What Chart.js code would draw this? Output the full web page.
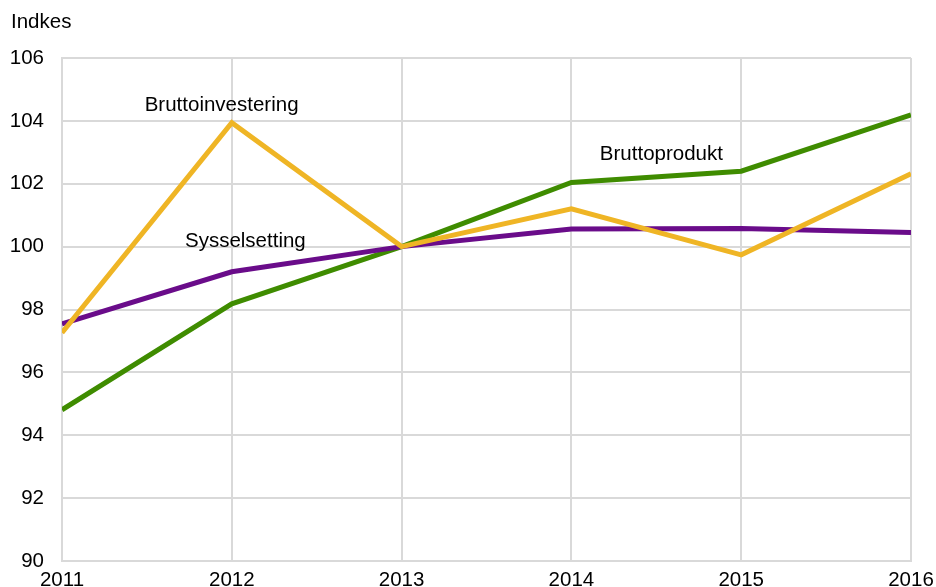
<!DOCTYPE html>
<html>
<head>
<meta charset="utf-8">
<script src="https://cdn.jsdelivr.net/npm/chart.js@4"></script>
<style>
html,body{margin:0;padding:0;background:#fff;}
#wrap{width:936px;height:587px;position:relative;}
</style>
</head>
<body>
<div id="wrap"><canvas id="c" width="936" height="587"></canvas></div>
<script>
const years = [2011, 2012, 2013, 2014, 2015, 2016];
const bruttoprodukt = [94.81, 98.18, 100.0, 102.04, 102.40, 104.19];
const bruttoinvestering = [97.26, 103.94, 100.0, 101.20, 99.74, 102.32];
const sysselsetting = [97.54, 99.20, 100.0, 100.56, 100.58, 100.45];
const yAxisTitle = 'Indkes';
const seriesNames = ['Bruttoprodukt', 'Bruttoinvestering', 'Sysselsetting'];
const labelAnchors = [
  {text: 'Bruttoinvestering', x: 2011.94, y: 104.48},
  {text: 'Sysselsetting', x: 2012.08, y: 100.18},
  {text: 'Bruttoprodukt', x: 2014.53, y: 102.92}
];

const FONT = '"Liberation Sans", Arial, sans-serif';
const FS = 20.5;
const colors = ['#3f8c00', '#efb525', '#6a0c8a'];

function pts(arr){ return years.map((y,i)=>({x:y, y:arr[i]})); }

const textPlugin = {
  id: 'texts',
  afterDraw(chart){
    const ctx = chart.ctx;
    const xs = chart.scales.x, ys = chart.scales.y;
    ctx.save();
    ctx.fillStyle = '#000';
    ctx.font = FS + 'px ' + FONT;
    ctx.textBaseline = 'middle';
    ctx.textAlign = 'left';
    ctx.fillText(yAxisTitle, 11, 22);
    ctx.textAlign = 'center';
    labelAnchors.forEach(a=>{
      ctx.fillText(a.text, xs.getPixelForValue(a.x), ys.getPixelForValue(a.y));
    });
    ctx.restore();
  }
};

new Chart(document.getElementById('c'), {
  type: 'line',
  data: {
    datasets: [
      {label: seriesNames[1], data: pts(bruttoinvestering), borderColor: colors[1], borderWidth: 5, pointRadius: 0, tension: 0},
      {label: seriesNames[2], data: pts(sysselsetting), borderColor: colors[2], borderWidth: 5, pointRadius: 0, tension: 0},
      {label: seriesNames[0], data: pts(bruttoprodukt), borderColor: colors[0], borderWidth: 5, pointRadius: 0, tension: 0}
    ]
  },
  options: {
    responsive: false,
    animation: false,
    layout: {autoPadding: false, padding: {top: 58, right: 25, left: 0, bottom: 0}},
    plugins: {legend: {display: false}, tooltip: {enabled: false}},
    scales: {
      x: {
        type: 'linear', min: 2011, max: 2016,
        afterFit(s){ s.height = 26; s.paddingLeft = 0; s.paddingRight = 0; s.paddingTop = 0; s.paddingBottom = 0; },
        ticks: {stepSize: 1, color: '#000', font: {family: FONT, size: FS}, padding: 7, maxRotation: 0,
          callback: v => String(v)},
        grid: {color: '#d9d9d9', lineWidth: 2, drawTicks: false},
        border: {color: '#d9d9d9', width: 2}
      },
      y: {
        min: 90, max: 106,
        afterFit(s){ s.width = 62; s.paddingLeft = 0; s.paddingRight = 0; s.paddingTop = 0; s.paddingBottom = 0; },
        ticks: {stepSize: 2, color: '#000', font: {family: FONT, size: FS}, padding: 18},
        grid: {color: '#d9d9d9', lineWidth: 2, drawTicks: false},
        border: {color: '#d9d9d9', width: 2}
      }
    }
  },
  plugins: [textPlugin]
});
</script>
</body>
</html>
